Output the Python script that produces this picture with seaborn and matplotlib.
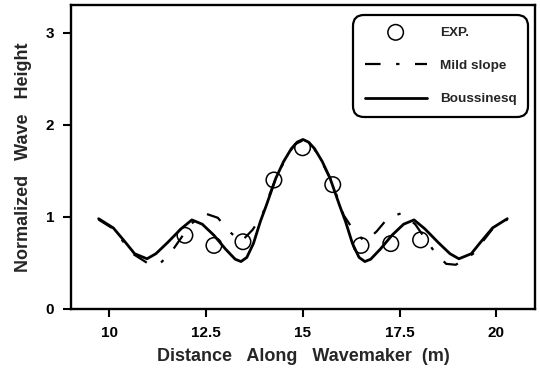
import matplotlib
matplotlib.use("Agg")
import matplotlib.pyplot as plt
import seaborn as sns
import pandas as pd

# Measured wave heights along the wavemaker
exp_x = [11.95, 12.70, 13.45, 14.25, 14.99, 15.77, 16.50, 17.27, 18.04]
exp_y = [0.80, 0.69, 0.73, 1.40, 1.75, 1.35, 0.69, 0.71, 0.75]

# Mild slope model
mild_x = [9.72, 10.1, 10.6, 11.05, 11.3, 11.6, 11.9, 12.1, 12.45, 12.8, 13.1,
          13.4, 13.7, 13.95, 14.1, 14.3, 14.6, 14.8, 15.0, 15.2, 15.4, 15.7,
          15.9, 16.05, 16.3, 16.6, 16.9, 17.2, 17.55, 17.9, 18.1, 18.4, 18.7,
          18.95, 19.4, 19.9, 20.28]
mild_y = [0.97, 0.87, 0.60, 0.48, 0.49, 0.62, 0.80, 0.92, 1.04, 0.99, 0.84,
          0.73, 0.86, 1.02, 1.20, 1.42, 1.67, 1.79, 1.83, 1.79, 1.67, 1.42,
          1.20, 1.02, 0.86, 0.73, 0.84, 0.99, 1.04, 0.92, 0.80, 0.62, 0.49,
          0.48, 0.60, 0.87, 0.97]

# Boussinesq model
bous_x = [9.72, 10.1, 10.4, 10.65, 10.97, 11.2, 11.5, 11.85, 12.13, 12.4, 12.7,
          13.0, 13.25, 13.4, 13.55, 13.72, 13.9, 14.05, 14.3, 14.5, 14.7, 14.85,
          15.0, 15.15, 15.3, 15.5, 15.7, 15.95, 16.1, 16.28, 16.45, 16.6, 16.75,
          17.0, 17.3, 17.6, 17.87, 18.15, 18.5, 18.8, 19.03, 19.35, 19.6, 19.9,
          20.28]
bous_y = [0.98, 0.88, 0.73, 0.60, 0.545, 0.60, 0.72, 0.87, 0.967, 0.92, 0.80,
          0.65, 0.54, 0.515, 0.56, 0.71, 0.95, 1.12, 1.42, 1.60, 1.74, 1.81,
          1.84, 1.81, 1.74, 1.60, 1.42, 1.12, 0.95, 0.71, 0.56, 0.515, 0.54,
          0.65, 0.80, 0.92, 0.967, 0.87, 0.72, 0.60, 0.545, 0.60, 0.73, 0.88,
          0.98]

x_ticks = [10, 12.5, 15, 17.5, 20]
x_tick_labels = ["10", "12.5", "15", "17.5", "20"]
y_ticks = [0, 1, 2, 3]

sns.set_style("ticks")
plt.rcParams["font.family"] = ["Liberation Sans", "DejaVu Sans"]
plt.rcParams["font.weight"] = "bold"

fig = plt.figure(figsize=(5.4, 3.81), dpi=100)
ax = fig.add_axes([0.131, 0.189, 0.86, 0.798])

exp_df = pd.DataFrame({"x": exp_x, "y": exp_y})
mild_df = pd.DataFrame({"x": mild_x, "y": mild_y})
bous_df = pd.DataFrame({"x": bous_x, "y": bous_y})

sns.scatterplot(data=exp_df, x="x", y="y", ax=ax, marker="o", s=125,
                facecolor="none", edgecolor="black", linewidth=1.1,
                label="EXP.", zorder=3)
sns.lineplot(data=mild_df, x="x", y="y", ax=ax, color="black", lw=1.6,
             linestyle=(0, (7, 7, 1.5, 7)), sort=False, label="Mild slope")
sns.lineplot(data=bous_df, x="x", y="y", ax=ax, color="black", lw=2.0,
             sort=False, label="Boussinesq")

ax.set_xlim(9, 21)
ax.set_ylim(0, 3.3)
ax.set_xticks(x_ticks)
ax.set_xticklabels(x_tick_labels)
ax.set_yticks(y_ticks)

for s in ax.spines.values():
    s.set_linewidth(1.7)
    s.set_color("black")
ax.tick_params(axis="both", direction="out", length=6, width=1.5,
               colors="black", labelsize=11, pad=6)
for lbl in ax.get_xticklabels() + ax.get_yticklabels():
    lbl.set_fontweight("bold")

ax.set_xlabel("Distance   Along   Wavemaker  (m)", fontsize=13,
              fontweight="bold", labelpad=6)
ax.set_ylabel("Normalized   Wave   Height", fontsize=13,
              fontweight="bold", labelpad=10)

leg = ax.legend(loc="upper right", bbox_to_anchor=(0.985, 0.967),
                borderaxespad=0, fancybox=True, framealpha=1,
                edgecolor="black", handlelength=4.6, handletextpad=1.0,
                labelspacing=1.55, borderpad=0.85,
                prop={"weight": "bold", "size": 9.7})
leg.get_frame().set_linewidth(1.6)
leg.get_frame().set_boxstyle("round", pad=0, rounding_size=0.8)

fig.savefig("out.png", dpi=100)
